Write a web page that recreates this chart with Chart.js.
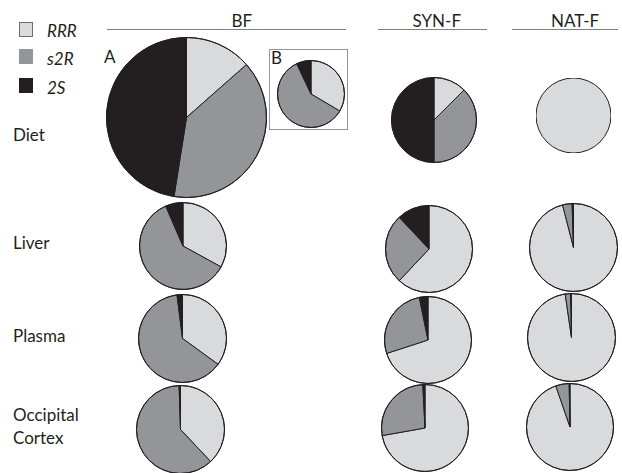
<!DOCTYPE html>
<html>
<head>
<meta charset="utf-8">
<script src="https://cdn.jsdelivr.net/npm/chart.js@4.4.1/dist/chart.umd.min.js"></script>
<style>
  html, body { margin:0; padding:0; background:#fff; }
  #stage { position:relative; width:622px; height:473px; overflow:hidden; font-family:Lato, "Open Sans", sans-serif; color:#231f20; }
  .t { position:absolute; white-space:nowrap; font-size:17px; line-height:20px; }
  .hl { position:absolute; height:0; border-top:1px solid #808080; }
  .box { position:absolute; width:14px; height:15px; box-sizing:border-box; }
  .pie { position:absolute; }
  .pie canvas { display:block; }
</style>
</head>
<body>
<div id="stage"></div>
<script>
// ---- data ----
const categories = ['RRR', 's2R', '2S'];
const groups = ['BF', 'SYN-F', 'NAT-F'];
const rows = ['Diet', 'Liver', 'Plasma', 'Occipital\nCortex'];
// percentages [RRR, s2R, 2S]
const bfDietA   = [13.5, 39, 47.5];
const bfDietB   = [33.5, 59.5, 7];
const bfLiver   = [33, 60.5, 6.5];
const bfPlasma  = [35, 63, 2];
const bfCortex  = [38, 61.5, 0.5];
const synDiet   = [12.5, 37.5, 50];
const synLiver  = [62, 26, 12];
const synPlasma = [70, 26.8, 3.2];
const synCortex = [72.2, 27, 0.8];
const natDiet   = [100, 0, 0];
const natLiver  = [96, 3.5, 0.5];
const natPlasma = [97.7, 2, 0.3];
const natCortex = [94.7, 5, 0.3];

// ---- styles / layout ----
const colors = ['#d9dadc', '#939598', '#231f20'];
const pieLayout = [
  { data: bfDietA,   cx: 186.5, cy: 117.5, r: 80 },
  { data: bfDietB,   cx: 310.5, cy: 93.5,  r: 33.5 },
  { data: synDiet,   cx: 433.5, cy: 119.5, r: 42.5 },
  { data: natDiet,   cx: 573,   cy: 115,   r: 37 },
  { data: bfLiver,   cx: 183,   cy: 246,   r: 43.5 },
  { data: synLiver,  cx: 428.5, cy: 249,   r: 43.5 },
  { data: natLiver,  cx: 573,   cy: 247.5, r: 44 },
  { data: bfPlasma,  cx: 182,   cy: 338.5, r: 44 },
  { data: synPlasma, cx: 427.5, cy: 339.5, r: 43.5 },
  { data: natPlasma, cx: 571.5, cy: 337.5, r: 44 },
  { data: bfCortex,  cx: 180,   cy: 429.5, r: 44 },
  { data: synCortex, cx: 424.5, cy: 427.5, r: 43.5 },
  { data: natCortex, cx: 569.5, cy: 426.5, r: 43.5 }
];

const stage = document.getElementById('stage');
function addText(txt, x, y, extra) {
  const d = document.createElement('div');
  d.className = 't';
  d.textContent = txt;
  d.style.left = x + 'px';
  d.style.top = (y - 10) + 'px';
  if (extra) Object.assign(d.style, extra);
  stage.appendChild(d);
  return d;
}
function addLine(x1, x2, y) {
  const d = document.createElement('div');
  d.className = 'hl';
  d.style.left = x1 + 'px';
  d.style.width = (x2 - x1) + 'px';
  d.style.top = y + 'px';
  stage.appendChild(d);
}

// legend
const legendTop = [22, 49, 78];
const legendTextY = [31, 59, 88];
categories.forEach((c, i) => {
  const b = document.createElement('div');
  b.className = 'box';
  b.style.left = '19px';
  b.style.top = legendTop[i] + 'px';
  b.style.background = colors[i];
  b.style.border = '1px solid ' + (i === 0 ? '#6d6e71' : colors[i]);
  stage.appendChild(b);
  addText(c, 47, legendTextY[i], { fontStyle: 'italic' });
});

// group headers
const headerX = [242, 437, 575];
const lineSpans = [[107, 346], [378, 487], [512, 618]];
groups.forEach((g, i) => {
  const d = addText(g, 0, 21);
  d.style.left = (headerX[i] - d.offsetWidth / 2) + 'px';
  addLine(lineSpans[i][0], lineSpans[i][1], 29);
});

// row labels
const rowY = [135, 243, 336, 415];
rows.forEach((r, i) => {
  const parts = r.split('\n');
  parts.forEach((p, j) => addText(p, 13, rowY[i] + j * 23));
});

// panel labels and inset box
addText('A', 104, 57);
addText('B', 271, 58);
const inset = document.createElement('div');
inset.style.cssText = 'position:absolute;left:269px;top:49px;width:79px;height:81px;box-sizing:border-box;border:1px solid #939598;';
stage.appendChild(inset);

// outline plugin: strokes the outer circle of the pie using the arc element geometry
const outlinePlugin = {
  id: 'outline',
  afterDatasetsDraw(chart) {
    const arc = chart.getDatasetMeta(0).data[0];
    if (!arc) return;
    const ctx = chart.ctx;
    ctx.save();
    ctx.beginPath();
    ctx.arc(arc.x, arc.y, arc.outerRadius, 0, Math.PI * 2);
    ctx.lineWidth = 1;
    ctx.strokeStyle = '#231f20';
    ctx.stroke();
    ctx.restore();
  }
};

// pies
Chart.defaults.animation = false;
pieLayout.forEach(p => {
  const size = Math.round(2 * p.r + 1);
  const total = p.data.reduce((a, b) => a + b, 0);
  const wrap = document.createElement('div');
  wrap.className = 'pie';
  wrap.style.left = (p.cx - size / 2) + 'px';
  wrap.style.top = (p.cy - size / 2) + 'px';
  wrap.style.width = size + 'px';
  wrap.style.height = size + 'px';
  const cv = document.createElement('canvas');
  cv.width = size; cv.height = size;
  wrap.appendChild(cv);
  stage.appendChild(wrap);
  new Chart(cv, {
    type: 'pie',
    data: {
      labels: categories,
      datasets: [{
        data: p.data,
        backgroundColor: colors,
        borderColor: '#231f20',
        borderWidth: p.data.map(v => (v > 0 && v < total ? 1 : 0)),
        hoverOffset: 0
      }]
    },
    options: {
      responsive: false,
      animation: false,
      layout: { padding: 0 },
      plugins: { legend: { display: false }, tooltip: { enabled: false } },
      events: []
    },
    plugins: [outlinePlugin]
  });
});
</script>
</body>
</html>
